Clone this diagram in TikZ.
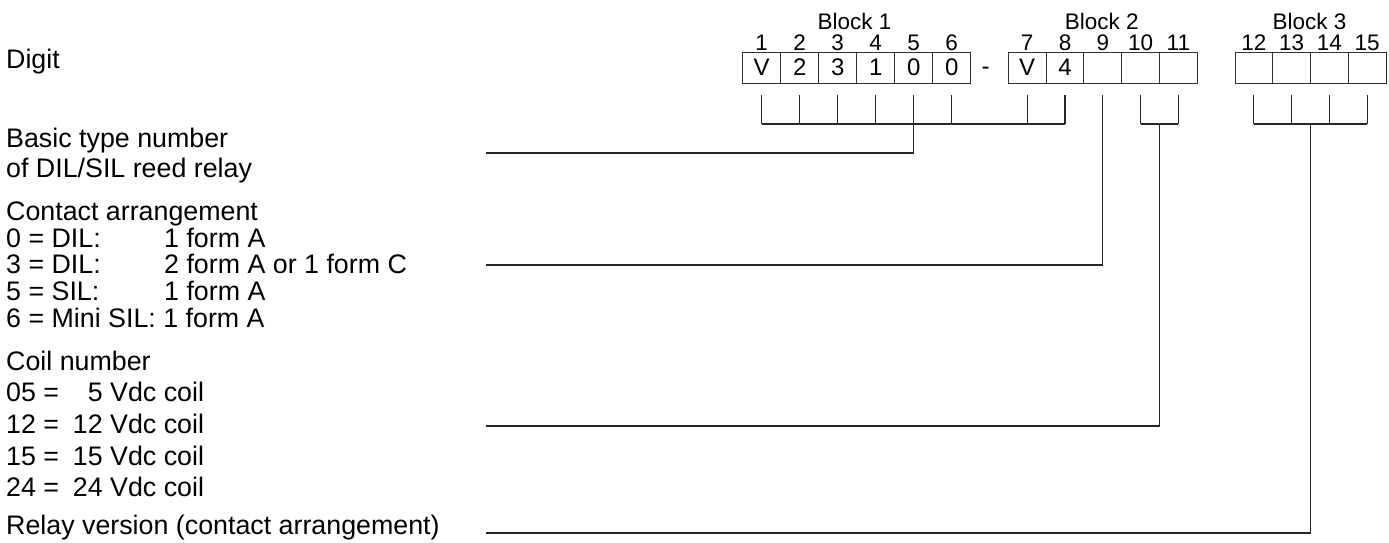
\documentclass[tikz,border=0pt]{standalone}
\usepackage{fontspec}
\setmainfont{Liberation Sans}
\begin{document}
\begin{tikzpicture}[x=1pt,y=-1pt,
  lbl/.style={anchor=base west,inner sep=0pt,font=\fontsize{26.8}{30}\selectfont},
  cell/.style={draw=black!80,line width=1pt,minimum height=31pt,inner sep=0pt,font=\fontsize{24}{28}\selectfont},
  num/.style={anchor=base,inner sep=0pt,font=\fontsize{22.5}{26}\selectfont},
  wire/.style={line width=1.1pt,black!85}]
\useasboundingbox (0,0) rectangle (1389,542);

% cells
\foreach \i/\t [count=\k] in {1/V,2/2,3/3,4/1,5/0,6/0}
  \node[cell,minimum width=38pt] (c\i) at ({742.7+38*(\k-0.5)},67.5) {\t};
\foreach \i/\t [count=\k] in {7/V,8/4,9/{},10/{},11/{}}
  \node[cell,minimum width=37.8pt] (c\i) at ({1008.3+37.8*(\k-0.5)},67.5) {\t};
\foreach \i [count=\k] in {12,13,14,15}
  \node[cell,minimum width=37.75pt] (c\i) at ({1235+37.75*(\k-0.5)},67.5) {};
\node[inner sep=0pt,font=\fontsize{24}{28}\selectfont] (dash) at (985.5,71) {-};

% digit numbers
\foreach \i in {1,...,15}
  \node[num] (n\i) at (c\i |- 0,50.7) {\i};

% block labels
\node[num] (b1) at (854.5,29.3) {Block 1};
\node[num] (b2) at (1101.7,29.3) {Block 2};
\node[num] (b3) at (1309.5,29.3) {Block 3};

% left texts
\node[lbl] (digit) at (6,68) {Digit};
\node[lbl] (basic1) at (6,147) {Basic type number};
\node[lbl] (basic2) at (6,177) {of DIL/SIL reed relay};
\node[lbl] (ca) at (6,220) {Contact arrangement};
\node[lbl] (ca0) at (6,247) {0 = DIL:};
\node[lbl] (ca0b) at (164,247) {1 form A};
\node[lbl] (ca3) at (6,273) {3 = DIL:};
\node[lbl] (ca3b) at (164,273) {2 form A or 1 form C};
\node[lbl] (ca5) at (6,300) {5 = SIL:};
\node[lbl] (ca5b) at (164,300) {1 form A};
\node[lbl] (ca6) at (6,327) {6 = Mini SIL: 1 form A};
\node[lbl] (coil) at (6,370) {Coil number};
\node[lbl] (co5) at (6,401.7) {05 =};
\node[lbl] (co5b) at (72.7,401.7) {\phantom{1}5 Vdc coil};
\node[lbl] (co12) at (6,433.3) {12 =};
\node[lbl] (co12b) at (72.7,433.3) {12 Vdc coil};
\node[lbl] (co15) at (6,465) {15 =};
\node[lbl] (co15b) at (72.7,465) {15 Vdc coil};
\node[lbl] (co24) at (6,496.7) {24 =};
\node[lbl] (co24b) at (72.7,496.7) {24 Vdc coil};
\node[lbl] (rv) at (6,534) {Relay version (contact arrangement)};

% comb
\coordinate (tt) at (0,95);
\coordinate (bb) at (0,124);
\foreach \i in {1,...,8,10,11,12,13,14,15}
  \draw[wire] (c\i |- tt) -- (c\i |- bb);
\draw[wire] (c1 |- bb) -- (c8 |- bb);
\draw[wire] (c10 |- bb) -- (c11 |- bb);
\draw[wire] (c12 |- bb) -- (c15 |- bb);

% leader lines
\coordinate (L1) at (486,153);
\coordinate (L2) at (486,265);
\coordinate (L3) at (486,426);
\coordinate (L4) at (486,533);
\coordinate (s2) at (1159.5,124);
\coordinate (s3) at (1310.5,124);
\draw[wire] (c5 |- bb) -- (c5 |- L1) -- (L1);
\draw[wire] (c9 |- tt) -- (c9 |- L2) -- (L2);
\draw[wire] (s2) -- (s2 |- L3) -- (L3);
\draw[wire] (s3) -- (s3 |- L4) -- (L4);
\end{tikzpicture}
\end{document}
